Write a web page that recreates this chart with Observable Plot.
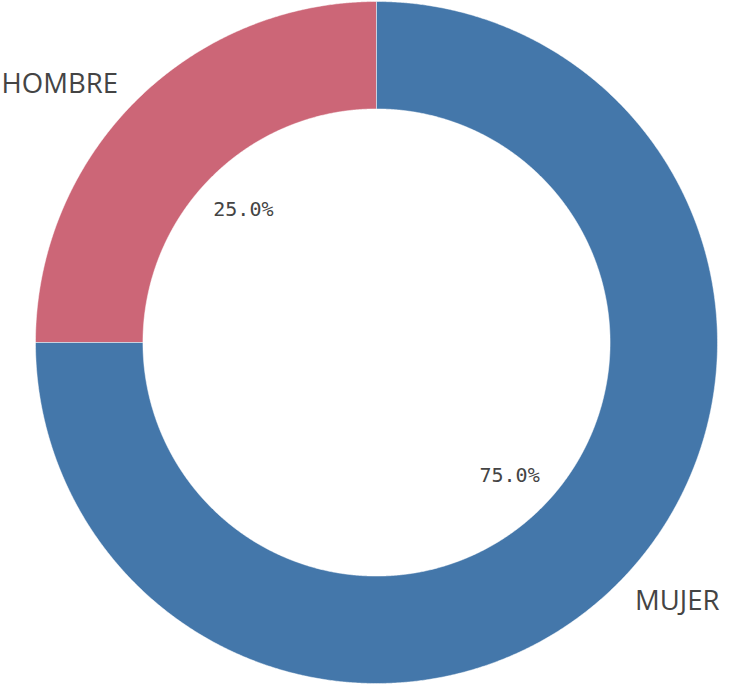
<!DOCTYPE html>
<html>
<head>
<meta charset="utf-8">
<script src="https://cdn.jsdelivr.net/npm/d3@7"></script>
<script src="https://cdn.jsdelivr.net/npm/@observablehq/plot@0.6"></script>
<style>
  html, body { margin: 0; padding: 0; background: #fff; }
</style>
</head>
<body>
<div id="chart"></div>
<script>
// Data
const categories = ["HOMBRE", "MUJER"];
const values = [25.0, 75.0];
const colors = ["#CC6677", "#4477AA"];

// Geometry settings (layout, not data)
const W = 731, H = 684;
const cx = 376, cy = 342, R = 341;
const innerRatio = 0.685;
const startAngle = 90; // degrees, counter-clockwise
const labelDist = 1.072;
const pctDist = 0.552;

const total = d3.sum(values);
let acc = startAngle;
const wedges = categories.map((name, i) => {
  const a0 = acc;
  const a1 = acc + 360 * values[i] / total;
  acc = a1;
  return { name, value: values[i], a0, a1, mid: (a0 + a1) / 2 };
});

// Polygon points for each wedge (sampled arcs, derived from the data)
const pts = [];
for (const w of wedges) {
  const n = Math.max(2, Math.ceil((w.a1 - w.a0) / 0.25));
  const ring = [];
  for (let k = 0; k <= n; k++) {
    const a = (w.a0 + (w.a1 - w.a0) * k / n) * Math.PI / 180;
    ring.push({ name: w.name, x: Math.cos(a), y: Math.sin(a) });
  }
  for (let k = n; k >= 0; k--) {
    const a = (w.a0 + (w.a1 - w.a0) * k / n) * Math.PI / 180;
    ring.push({ name: w.name, x: innerRatio * Math.cos(a), y: innerRatio * Math.sin(a) });
  }
  ring.push({ ...ring[0] });
  pts.push(...ring);
}

const labels = wedges.map(w => {
  const a = w.mid * Math.PI / 180;
  const x = labelDist * Math.cos(a), y = labelDist * Math.sin(a);
  return { name: w.name, x, y, anchor: x < 0 ? "end" : "start" };
});
const pcts = wedges.map(w => {
  const a = w.mid * Math.PI / 180;
  return { text: (100 * w.value / total).toFixed(1) + "%", x: pctDist * Math.cos(a), y: pctDist * Math.sin(a) };
});

const chart = Plot.plot({
  width: W,
  height: H,
  margin: 0,
  x: { domain: [-cx / R, (W - cx) / R], axis: null },
  y: { domain: [-(H - cy) / R, cy / R], axis: null },
  color: { domain: categories, range: colors },
  style: { background: "#fff" },
  marks: [
    Plot.line(pts, {
      x: "x", y: "y", z: "name",
      fill: "name",
      stroke: "white",
      strokeWidth: 0.8,
      strokeOpacity: 0.6,
      curve: "linear"
    }),
    Plot.text(labels.filter(d => d.anchor === "end"), {
      x: "x", y: "y", text: "name", textAnchor: "end",
      fontSize: 27.5, fill: "#444", fontFamily: "'Open Sans', 'DejaVu Sans', sans-serif"
    }),
    Plot.text(labels.filter(d => d.anchor === "start"), {
      x: "x", y: "y", text: "name", textAnchor: "start",
      fontSize: 27.5, fill: "#444", fontFamily: "'Open Sans', 'DejaVu Sans', sans-serif"
    }),
    Plot.text(pcts, {
      x: "x", y: "y", text: "text",
      fontSize: 20, fill: "#444", fontFamily: "'DejaVu Sans Mono', monospace"
    })
  ]
});
document.getElementById("chart").appendChild(chart);
</script>
</body>
</html>
